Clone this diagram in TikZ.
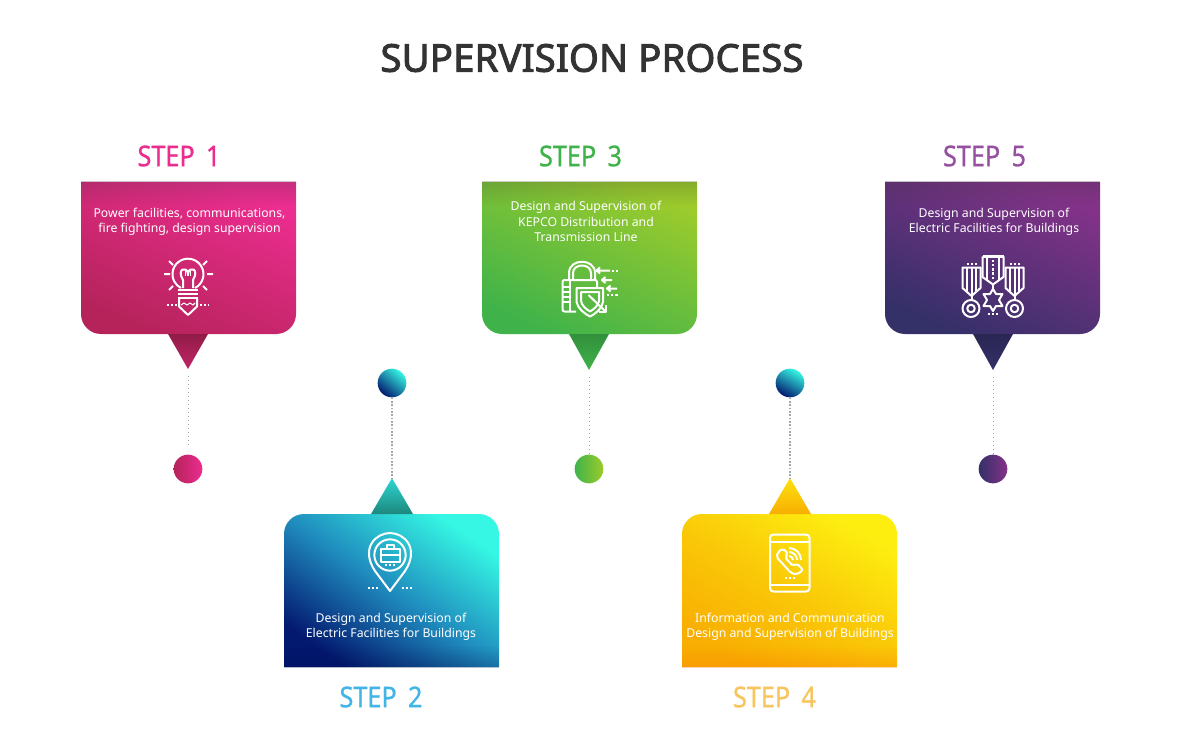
\documentclass[tikz,border=0pt]{standalone}
\usepackage{fontspec}
\setmainfont{Noto Sans}
\newfontfamily\titlefont[FakeBold=2.6,LetterSpace=0.4]{Noto Sans}
\newfontfamily\stepfont[FakeBold=0.8,FakeStretch=0.88]{Noto Sans}
\usetikzlibrary{fadings}
\definecolor{pinkA}{HTML}{B5235A}
\definecolor{pinkB}{HTML}{EC2D90}
\definecolor{blueA}{HTML}{03186F}
\definecolor{blueM}{HTML}{1F8CBE}
\definecolor{blueB}{HTML}{35F7E3}
\definecolor{blueC}{HTML}{42B4E6}
\definecolor{greenA}{HTML}{3FB34A}
\definecolor{greenB}{HTML}{9CCB2C}
\definecolor{goldA}{HTML}{F8AE02}
\definecolor{goldM}{HTML}{FAC808}
\definecolor{goldB}{HTML}{FDEE10}
\definecolor{goldC}{HTML}{F7C55F}
\definecolor{plumA}{HTML}{343068}
\definecolor{plumB}{HTML}{843289}
\definecolor{plumC}{HTML}{95509F}
\tikzfading[name=banddown, top color=transparent!60, bottom color=transparent!100]
\tikzfading[name=bandup, bottom color=transparent!60, top color=transparent!100]
\tikzset{
  steplabel/.style={font=\stepfont\fontsize{21.5}{24}\selectfont, inner sep=0pt},
  cardtext/.style={font=\fontsize{9.2}{11.5}\selectfont, text=white, align=center, inner sep=0pt},
  stepdot/.style={circle, minimum size=21.5pt, inner sep=0pt},
  dotted line/.style={draw=black!35, line width=0.6pt, dash pattern=on 0.8pt off 2.2pt},
  dense line/.style={draw=black!35, line width=1.2pt, dash pattern=on 1.3pt off 1.2pt},
  icon/.style={draw=white, line width=1.5pt, line join=round, fill=none},
  icon dots/.style={draw=white, line width=1.5pt, dash pattern=on 1.7pt off 1.4pt},
}
\begin{document}
\begin{tikzpicture}[x=0.75pt,y=-0.75pt]
\useasboundingbox (0,0) rectangle (1184,734);
\node[font=\titlefont\fontsize{28.7}{30}\selectfont, text=black!80, inner sep=0pt] (title) at (592,58) {SUPERVISION PROCESS};

% step 1
\node[steplabel, text=pinkB] (label1) at (179,156) {STEP\, 1};
\shade[bottom color=pinkA, top color=pinkB, shading angle=-25] (81,182) -- (296,182) [rounded corners=15pt] -- (296,334) -- (81,334) [sharp corners] -- cycle;
\begin{scope}
\clip (81,182) rectangle (296,206);
\fill[black!80, path fading=banddown] (81,158) rectangle (296,206);
\end{scope}
\shade[top color=pinkA!80!black, bottom color=pinkA!80!pinkB] (168,334) -- (208,334) -- (188,369) -- cycle;
\coordinate (tip1) at (188,369);
\node[stepdot, left color=pinkA, right color=pinkB] (dot1) at (188,469) {};
\draw[dotted line] ([yshift=-5pt]tip1) -- ([yshift=8pt]dot1.north);
\node[cardtext] (text1) at (189.5,222) {Power facilities, communications,\\fire fighting, design supervision};
% bulb and pencil
\draw[icon] (195,288) arc[start angle=63,end angle=-243,radius=15.5];
\draw[icon] (183,288) -- (183,280) .. controls (176,269) and (187,265) .. (188,274) .. controls (189,265) and (200,269) .. (193,280) -- (193,288);
\draw[icon, line width=0.8pt] (185.5,271) -- (185.5,276) (188,271) -- (188,276) (190.5,271) -- (190.5,276);
\draw[icon] (178,289.5) -- (198,289.5) (178,293.5) -- (198,293.5) (178,297.5) -- (198,297.5);
\draw[icon] (179,298) -- (179,306.5) -- (188,315) -- (197,306.5) -- (197,298);
\draw[icon, line width=0.8pt] (181,305) -- (184,303) -- (187,305) -- (190,303) -- (193,305) -- (195,303);
\draw[icon dots] (167,305) -- (177,305);
\draw[icon dots] (200,305) -- (209,305);
\draw[icon] (164,274) -- (170,274) (207,274) -- (213,274) (169,261) -- (173,265) (207,261) -- (203,265) (169,290) -- (173,286) (207,290) -- (203,286);

% step 2
\node[steplabel, text=blueC] (label2) at (381,697) {STEP\, 2};
\shade[bottom color=blueA, top color=blueB, middle color=blueM, shading angle=-35] (284,667) -- (499,667) [rounded corners=15pt] -- (499,514) -- (284,514) [sharp corners] -- cycle;
\begin{scope}
\clip (284,645) rectangle (499,667);
\fill[blueA!60!black, path fading=bandup] (284,645) rectangle (499,689);
\end{scope}
\shade[bottom color=blueB!55!black, top color=blueB!85!blueA] (371,514) -- (413,514) -- (392,478) -- cycle;
\coordinate (tip2) at (392,478);
\node[stepdot, bottom color=blueA, top color=blueB, shading angle=-40] (dot2) at (392,383) {};
\draw[dense line] (dot2.south) -- (tip2);
\node[cardtext] (text2) at (391,627) {Design and Supervision of\\Electric Facilities for Buildings};
% map pin with briefcase
\draw[icon] (390,591) -- (375,571) .. controls (360,548) and (376,533) .. (390,533) .. controls (404,533) and (420,548) .. (405,571) -- cycle;
\node[draw=white, line width=1.5pt, circle, minimum size=23.5pt, inner sep=0pt] (pinring) at (390,555) {};
\draw[icon] (380.5,548.5) rectangle (399.5,561.5);
\draw[icon] (380.5,555) -- (399.5,555) (386.5,548.5) -- (386.5,544.5) -- (394,544.5) -- (394,548.5);
\draw[icon dots] (385,564.5) -- (395,564.5);
\draw[icon dots] (368,587.5) -- (378,587.5);
\draw[icon dots] (402,587.5) -- (412,587.5);

% step 3
\node[steplabel, text=greenA] (label3) at (580.5,156) {STEP\, 3};
\shade[bottom color=greenA, top color=greenB, shading angle=-25] (482,182) -- (697,182) [rounded corners=15pt] -- (697,334) -- (482,334) [sharp corners] -- cycle;
\begin{scope}
\clip (482,182) rectangle (697,206);
\fill[black!80, path fading=banddown] (482,158) rectangle (697,206);
\end{scope}
\shade[top color=greenA!80!black, bottom color=greenA] (569,334) -- (609,334) -- (589,370) -- cycle;
\coordinate (tip3) at (589,370);
\node[stepdot, left color=greenA, right color=greenB] (dot3) at (589,469) {};
\draw[dotted line] ([yshift=-5pt]tip3) -- (dot3.north);
\node[cardtext] (text3) at (586,221.5) {Design and Supervision of\\KEPCO Distribution and\\Transmission Line};
% padlock, shield and arrows
\draw[icon] (576,311.5) -- (565,311.5) [rounded corners=1.5pt] -- (562.5,311.5) -- (562.5,280) -- (597,280) -- (597,288);
\draw[icon] (569,280) -- (569,273) .. controls (569,258) and (595,258) .. (595,273) -- (595,280);
\draw[icon] (573,280) -- (573,273) .. controls (573,263) and (591,263) .. (591,273) -- (591,280);
\draw[icon] (562.5,286.5) -- (571,286.5) (562.5,291.5) -- (571,291.5) (562.5,296.5) -- (571,296.5) (562.5,301.5) -- (571,301.5);
\draw[icon] (570,280) -- (570,311.5);
\draw[icon] (576.5,288) -- (603,288) -- (603,302) .. controls (602,309) and (595,314) .. (590,316.5) .. controls (585,314) and (578,309) .. (576.5,302) -- cycle;
\draw[icon] (581,292) -- (599,292) -- (599,301) .. controls (598,306) and (594,309) .. (590,311.5) .. controls (586,309) and (582,306) .. (581,301) -- cycle;
\draw[icon] (588.5,295) -- (606,312);
\draw[icon] (606,305) -- (606,312) -- (599,312);
\draw[icon] (596.5,270.5) -- (610,270.5) (600,267.5) -- (596.5,270.5) -- (600,273.5);
\draw[icon] (602,280) -- (612,280) (605.5,277) -- (602,280) -- (605.5,283);
\draw[icon] (607,288.5) -- (617,288.5) (610.5,285.5) -- (607,288.5) -- (610.5,291.5);
\draw[icon dots] (612,270.5) -- (617.5,270.5);
\draw[icon dots] (607,295) -- (617.5,295);

% step 4
\node[steplabel, text=goldC] (label4) at (774.5,697) {STEP\, 4};
\shade[bottom color=goldA, top color=goldB, middle color=goldM, shading angle=-30] (682,667) -- (897,667) [rounded corners=15pt] -- (897,514) -- (682,514) [sharp corners] -- cycle;
\begin{scope}
\clip (682,645) rectangle (897,667);
\fill[orange!70!red, path fading=bandup] (682,645) rectangle (897,689);
\end{scope}
\shade[bottom color=goldA, top color=goldB!80!goldA] (769,514) -- (811,514) -- (790,478) -- cycle;
\coordinate (tip4) at (790,478);
\node[stepdot, bottom color=blueA, top color=blueB, shading angle=-30] (dot4) at (790,383) {};
\draw[dense line] (dot4.south) -- (tip4);
\node[cardtext] (text4) at (790,627) {Information and Communication\\Design and Supervision of Buildings};
% phone with handset
\draw[icon, rounded corners=2.5pt] (770,534.5) rectangle (809.5,591.5);
\draw[icon] (770,541.5) -- (809.5,541.5) (770,584.5) -- (809.5,584.5);
\draw[icon dots] (785,577.5) -- (795,577.5);
\draw[icon, rounded corners=1.5pt] (783,548.5) -- (778,552) -- (776.5,557) -- (791,573) -- (797,574.5) -- (803,570) -- (797,563.5) -- (793,566) -- (785,557.5) -- (788,553.5) -- cycle;
\draw[icon] (789,552) arc[start angle=-90,end angle=0,radius=8];
\draw[icon] (789,548) arc[start angle=-90,end angle=0,radius=12];
\draw[icon] (789,556) arc[start angle=-90,end angle=0,radius=4];

% step 5
\node[steplabel, text=plumC] (label5) at (984.5,156) {STEP\, 5};
\shade[bottom color=plumA, top color=plumB, shading angle=-25] (885,182) -- (1100,182) [rounded corners=15pt] -- (1100,334) -- (885,334) [sharp corners] -- cycle;
\begin{scope}
\clip (885,182) rectangle (1100,206);
\fill[black!80, path fading=banddown] (885,158) rectangle (1100,206);
\end{scope}
\shade[top color=plumA!80!black, bottom color=plumA] (973,334) -- (1013,334) -- (993,370) -- cycle;
\coordinate (tip5) at (993,370);
\node[stepdot, left color=plumA, right color=plumB] (dot5) at (993,469) {};
\draw[dotted line] ([yshift=-5pt]tip5) -- (dot5.north);
\node[cardtext] (text5) at (994,222) {Design and Supervision of\\Electric Facilities for Buildings};
% three medals
\draw[icon] (982.5,256.5) -- (1003.5,256.5);
\draw[icon] (982.5,256.5) -- (982.5,277) -- (993,284.5) -- (1003.5,277) -- (1003.5,256.5);
\draw[icon] (987,256.5) -- (987,280) (999,256.5) -- (999,280);
\draw[icon, dash pattern=on 1.7pt off 1.4pt] (993,260) -- (993,279);
\draw[icon] (993,285) -- (993,289);
\draw[icon] (993,289) -- (996,294) -- (1002.5,294) -- (999,300) -- (1002.5,306) -- (996,306) -- (993,311) -- (990,306) -- (983.5,306) -- (987,300) -- (983.5,294) -- (990,294) -- cycle;
\draw[icon dots] (988,314) -- (998,314);
\draw[icon] (962.5,267.5) -- (980.5,267.5) -- (980.5,288) -- (971.5,296) -- (962.5,288) -- cycle;
\draw[icon] (967,267.5) -- (967,291) (971.5,267.5) -- (971.5,296) (976,267.5) -- (976,291);
\draw[icon] (971.5,296) -- (971.5,300);
\draw[icon] (971,308.5) circle[radius=8.5];
\draw[icon] (971,308.5) circle[radius=3.8];
\draw[icon dots] (966.5,264) -- (976.5,264);
\draw[icon] (1005.5,267.5) -- (1023.5,267.5) -- (1023.5,288) -- (1014.5,296) -- (1005.5,288) -- cycle;
\draw[icon] (1010,267.5) -- (1010,291) (1014.5,267.5) -- (1014.5,296) (1019,267.5) -- (1019,291);
\draw[icon] (1014.5,296) -- (1014.5,300);
\draw[icon] (1014.5,308.5) circle[radius=8.5];
\draw[icon] (1014.5,308.5) circle[radius=3.8];
\draw[icon dots] (1009.5,264) -- (1019.5,264);
\end{tikzpicture}
\end{document}
